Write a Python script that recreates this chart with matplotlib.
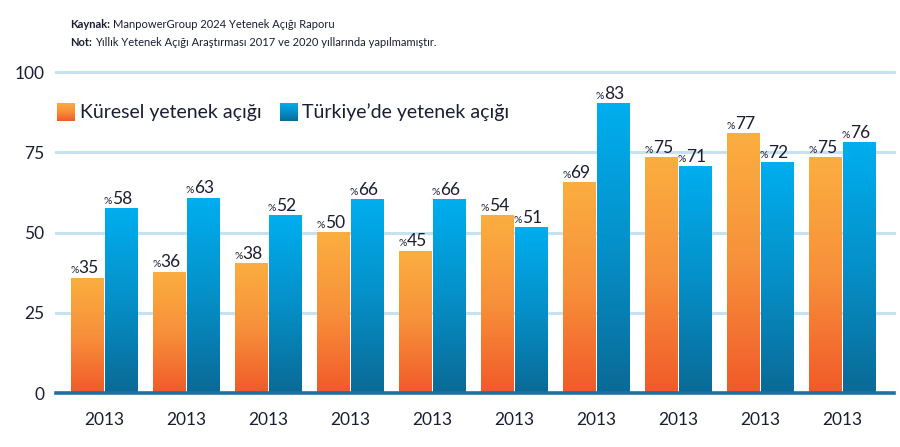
import matplotlib.pyplot as plt
import numpy as np
from matplotlib.colors import LinearSegmentedColormap

plt.rcParams.update({
    "font.family": ["Lato", "DejaVu Sans"],
})

# -----------------------------
# Data
# -----------------------------
years = ["2013"] * 10
kuresel = [35, 36, 38, 50, 45, 54, 69, 75, 77, 75]
turkiye = [58, 63, 52, 66, 66, 51, 83, 71, 72, 76]
# bar heights as drawn in the source graphic (they don't quite follow the labels)
kuresel_bar = [35.8, 37.6, 40.3, 49.9, 44.2, 55.2, 65.6, 73.4, 80.8, 73.4]
turkiye_bar = [57.4, 60.7, 55.2, 60.2, 60.2, 51.6, 90.2, 70.5, 71.7, 77.9]

yticks = [0, 25, 50, 75, 100]

# -----------------------------
# Colors
# -----------------------------
orange_cm = LinearSegmentedColormap.from_list("or", ["#f15a29", "#f7903a", "#fbae40"])
blue_cm = LinearSegmentedColormap.from_list("bl", ["#0a6a96", "#0590c8", "#00aeef"])
text_c = "#1b1d33"
grid_c = "#c6e1ef"
base_c = "#1d6fa5"

grad = np.linspace(1, 0, 256).reshape(-1, 1)


def grad_bar(ax, x, w, h, cmap):
    ax.imshow(grad, cmap=cmap, extent=[x - w / 2, x + w / 2, 0, h],
              aspect="auto", interpolation="bilinear", zorder=3)


def value_label(ax, x, h, v):
    ax.annotate(str(v), xy=(x, h), xytext=(-6.5, 3.5), textcoords="offset points",
                ha="left", va="baseline", fontsize=12.5, color=text_c, zorder=5)
    ax.annotate("%", xy=(x, h), xytext=(-6.5, 3.5), textcoords="offset points",
                ha="right", va="baseline", fontsize=7.5, color=text_c, zorder=5)


fig = plt.figure(figsize=(9, 4.47), dpi=100)
ax = fig.add_axes([0.0622, 0.1208, 0.9311, 0.7253])

w = 0.395
off = 0.205
xs = np.arange(len(years))

for i in xs:
    grad_bar(ax, i - off, w, kuresel_bar[i], orange_cm)
    grad_bar(ax, i + off, w, turkiye_bar[i], blue_cm)
    value_label(ax, i - off, kuresel_bar[i], kuresel[i])
    value_label(ax, i + off, turkiye_bar[i], turkiye[i])

for y in yticks[1:]:
    ax.axhline(y, color=grid_c, lw=2.2, zorder=1, clip_on=False)
ax.axhline(0, color=base_c, lw=2.6, zorder=4, clip_on=False)

ax.set_xlim(-0.591, 9.628)
ax.set_ylim(0, 101)
ax.set_xticks(xs)
ax.set_xticklabels(years)
ax.set_yticks(yticks)
ax.tick_params(axis="both", length=0, colors=text_c, labelsize=12.5)
ax.tick_params(axis="y", pad=8.5)
ax.tick_params(axis="x", pad=14)
for s in ax.spines.values():
    s.set_visible(False)

# legend (gradient squares + text)
for lx, cmap, tx, lab in [(0.0633, orange_cm, 0.0889, "Küresel yetenek açığı"),
                          (0.3111, blue_cm, 0.3356, "Türkiye’de yetenek açığı")]:
    lax = fig.add_axes([lx, 0.7293, 0.02, 0.0403])
    lax.imshow(grad, cmap=cmap, aspect="auto", interpolation="bilinear")
    lax.axis("off")
    fig.text(tx, 0.7494, lab, fontsize=14, color=text_c, va="center", ha="left")

# header notes: bold key + regular text
fig.canvas.draw()
renderer = fig.canvas.get_renderer()
for y, key, rest in [(0.937, "Kaynak:", "ManpowerGroup 2024 Yetenek Açığı Raporu"),
                     (0.898, "Not:", "Yıllık Yetenek Açığı Araştırması 2017 ve 2020 yıllarında yapılmamıştır.")]:
    t = fig.text(0.0778, y, key, fontsize=8, fontweight="bold", color=text_c, va="baseline")
    bb = t.get_window_extent(renderer=renderer)
    fig.text(bb.x1 / fig.bbox.width + 0.003, y, rest, fontsize=8, color=text_c, va="baseline")

plt.savefig("out.png", dpi=100)
